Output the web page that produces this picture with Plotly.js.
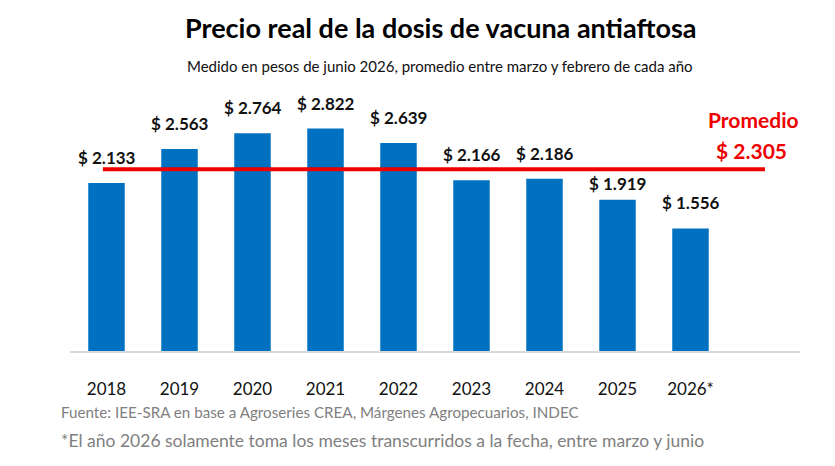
<!DOCTYPE html>
<html>
<head>
<meta charset="utf-8">
<script src="https://cdn.plot.ly/plotly-3.0.1.min.js"></script>
<style>
  html, body { margin: 0; padding: 0; background: #ffffff; }
  #chart { width: 835px; height: 466px; }
</style>
</head>
<body>
<div id="chart"></div>
<script>
// anos y precio real de la dosis (pesos de junio 2026)
var years = ['2018', '2019', '2020', '2021', '2022', '2023', '2024', '2025', '2026*'];
var prices = [2.133, 2.563, 2.764, 2.822, 2.639, 2.166, 2.186, 1.919, 1.556];
var priceLabels = ['$ 2.133', '$ 2.563', '$ 2.764', '$ 2.822', '$ 2.639', '$ 2.166', '$ 2.186', '$ 1.919', '$ 1.556'];
var average = 2.305;
var averageLabel = '$ 2.305';

var font = 'Lato, Roboto, sans-serif';
var blue = '#0070c0';
var red = '#ee0000';

var barTrace = {
  type: 'bar',
  x: years.map(function(y, i) { return i; }),
  y: prices,
  width: 0.5,
  marker: { color: blue },
  hoverinfo: 'skip',
};

var annotations = prices.map(function(p, i) {
  return {
    x: i,
    y: p,
    xref: 'x',
    yref: 'y',
    text: priceLabels[i],
    showarrow: false,
    yanchor: 'bottom',
    // the 2025 label sits lower so it clears the red line
    yshift: i === 7 ? 4 : 13,
    font: { family: font, size: 17, color: '#111111', weight: 'bold' },
  };
});

// titulo, subtitulo y notas al pie en pixeles de pagina
function pageText(txt, x, y, size, color, bold, anchor) {
  return {
    x: (x - 70) / 730, y: (466 - 115 - y) / 251,
    xref: 'paper', yref: 'paper',
    text: txt, showarrow: false,
    xanchor: anchor || 'center', yanchor: 'middle',
    font: { family: font, size: size, color: color, weight: bold ? 'bold' : 'normal' },
  };
}

annotations.push(pageText('Precio real de la dosis de vacuna antiaftosa', 441, 27, 27, '#000000', true));
annotations.push(pageText('Medido en pesos de junio 2026, promedio entre marzo y febrero de cada año', 440, 66, 15, '#111111', false));
annotations.push(pageText('Promedio', 753, 119, 21, red, true));
annotations.push(pageText(averageLabel, 751, 150, 21, red, true));
annotations.push(pageText('Fuente: IEE-SRA en base a Agroseries CREA, Márgenes Agropecuarios, INDEC', 59, 412, 15.2, '#808080', false, 'left'));
annotations.push(pageText('*El año 2026 solamente toma los meses transcurridos a la fecha, entre marzo y junio', 59, 440, 17.5, '#808080', false, 'left'));

var layout = {
  width: 835,
  height: 466,
  margin: { l: 70, r: 35, t: 100, b: 115 },
  paper_bgcolor: '#ffffff',
  plot_bgcolor: '#ffffff',
  showlegend: false,
  xaxis: {
    range: [-0.5, 9.5],
    tickvals: years.map(function(y, i) { return i; }),
    ticktext: years,
    showgrid: false,
    zeroline: false,
    showline: true,
    linecolor: '#d9d9d9',
    linewidth: 1.5,
    ticks: '',
    ticklabelstandoff: 22,
    tickfont: { family: font, size: 17, color: '#111111' },
    fixedrange: true,
  },
  yaxis: {
    range: [0, 3.185],
    visible: false,
    fixedrange: true,
  },
  shapes: [
    {
      type: 'line',
      xref: 'x', yref: 'y',
      x0: -0.05, x1: 9.02,
      y0: average, y1: average,
      line: { color: red, width: 4 },
    },
  ],
  annotations: annotations,
};

Plotly.newPlot('chart', [barTrace], layout, { displayModeBar: false, staticPlot: true });
</script>
</body>
</html>
